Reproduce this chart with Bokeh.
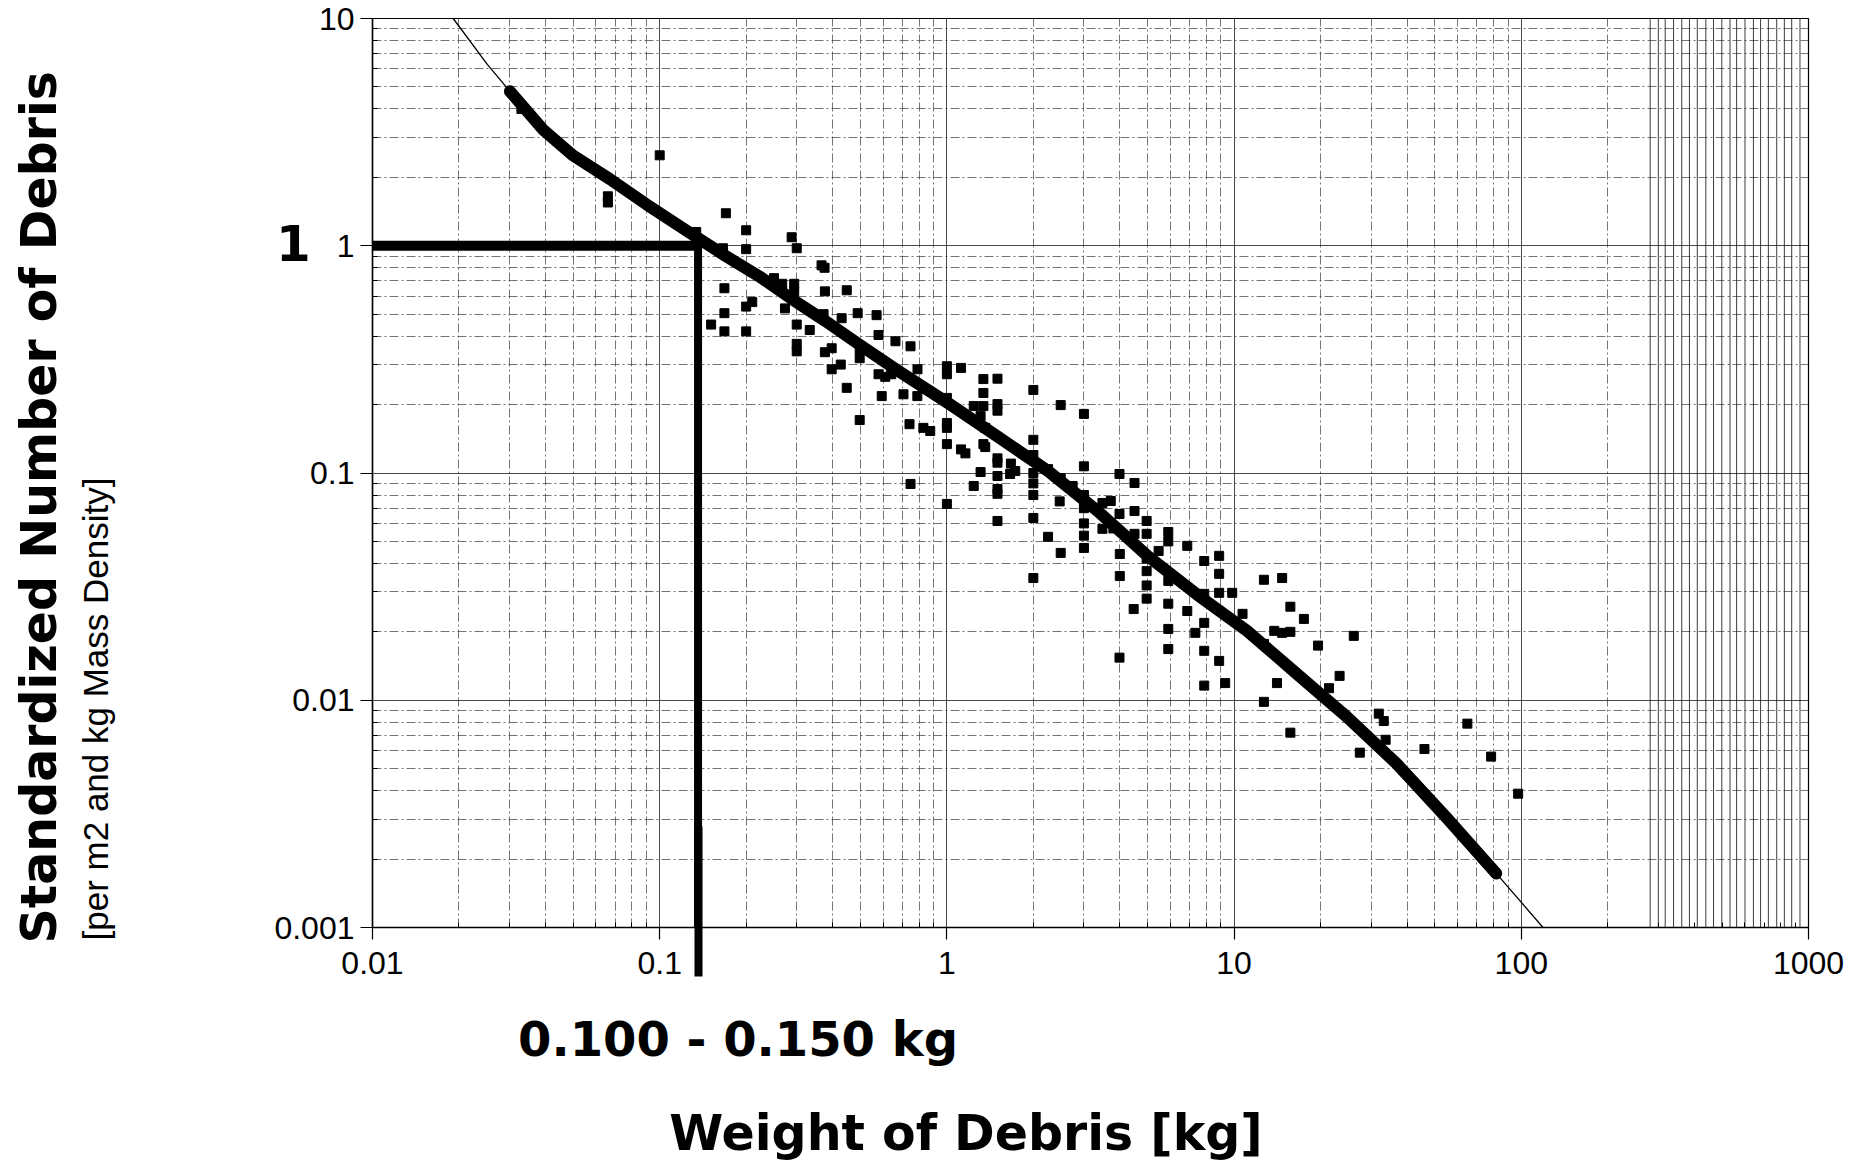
import math
from bokeh.plotting import figure
from bokeh.models import FixedTicker, Label, LogAxis
from bokeh.embed import file_html
from bokeh.resources import INLINE

# ---------------- data ----------------
x_ticks = [0.01, 0.1, 1, 10, 100, 1000]
x_tick_labels = ["0.01", "0.1", "1", "10", "100", "1000"]
y_ticks = [0.001, 0.01, 0.1, 1, 10]
y_tick_labels = ["0.001", "0.01", "0.1", "1", "10"]
minor_mantissas = [2, 3, 4, 5, 6, 7, 8, 9]

# measured debris (weight kg, standardized number)
debris_weight = [
    0.033, 0.066, 0.066, 0.1, 0.134, 0.166, 0.170, 0.2, 0.2, 0.288, 0.30,
    0.366, 0.375, 0.168, 0.2, 0.21, 0.25, 0.267, 0.294, 0.294, 0.376, 0.448,
    0.273, 0.168, 0.151, 0.168, 0.2, 0.30, 0.333, 0.30, 0.30, 0.376, 0.397,
    0.397, 0.427, 0.448, 0.372, 0.43, 0.489, 0.497, 0.497, 0.569, 0.578,
    0.662, 0.747, 0.578, 0.61, 0.64, 0.593, 0.497, 0.706, 0.789, 0.79,
    0.741, 0.828, 0.875, 1.0, 1.0, 1.12, 1.0, 1.0, 1.0, 1.0, 1.12, 1.16,
    0.747, 1.0, 1.34, 1.50, 1.34, 1.50, 1.50, 1.34, 1.24, 1.31, 1.36, 1.34,
    1.36, 1.5, 1.5, 1.67, 1.73, 1.66, 1.31, 1.24, 1.5, 1.5, 1.5, 1.5,
    2.0, 2.49, 3.0, 2.0, 2.0, 2.0, 2.0, 2.0, 2.0, 2.0, 2.25, 2.49,
    2.25, 2.49, 2.47, 2.74, 3.0, 3.0, 3.0, 3.0, 3.0, 3.0,
    3.48, 3.72, 3.99, 3.99, 4.5, 4.5, 3.48, 3.8, 4.0, 4.0, 4.5, 4.96, 4.96,
    3.99, 4.47, 4.96, 4.96, 4.96, 4.96, 5.46, 5.9, 5.9, 5.9, 5.9, 5.9, 5.9,
    6.87, 6.87, 7.33, 7.87, 7.87, 7.87, 7.87, 7.87, 8.87, 8.87, 8.87, 8.87,
    9.31, 9.85, 10.7, 12.7, 14.7, 12.7, 12.7, 13.8, 14.7, 15.7, 15.7,
    17.5, 14.1, 15.7, 19.6, 21.4, 23.3, 26.1, 31.9, 33.2, 33.7, 27.4, 46,
    64.9, 78.5, 97.5,
]
debris_number = [
    4.0, 1.65, 1.55, 2.5, 1.15, 0.975, 1.39, 1.17, 0.966, 1.09, 0.975,
    0.82, 0.80, 0.65, 0.54, 0.565, 0.72, 0.68, 0.68, 0.63, 0.63, 0.637,
    0.53, 0.505, 0.45, 0.42, 0.42, 0.45, 0.426, 0.37, 0.343, 0.34, 0.354,
    0.286, 0.30, 0.237, 0.50, 0.48, 0.505, 0.35, 0.32, 0.495, 0.405,
    0.38, 0.361, 0.272, 0.265, 0.272, 0.218, 0.171, 0.222, 0.218, 0.286,
    0.164, 0.158, 0.153, 0.295, 0.272, 0.29, 0.214, 0.166, 0.158, 0.134, 0.127, 0.122,
    0.0895, 0.0731, 0.259, 0.26, 0.225, 0.201, 0.188, 0.197, 0.197, 0.178, 0.158, 0.134,
    0.13, 0.116, 0.111, 0.110, 0.102, 0.099, 0.101, 0.0877, 0.097, 0.085, 0.081, 0.0615,
    0.232, 0.199, 0.182, 0.14, 0.12, 0.10, 0.09, 0.08, 0.0634, 0.0345, 0.0524, 0.0445,
    0.104, 0.095, 0.075, 0.0877, 0.107, 0.08, 0.07, 0.06, 0.053, 0.0468,
    0.0738, 0.0753, 0.099, 0.066, 0.0904, 0.068, 0.0568, 0.057, 0.044, 0.0352, 0.054, 0.0615, 0.054,
    0.0154, 0.0252, 0.042, 0.037, 0.032, 0.028, 0.0454, 0.055, 0.05, 0.0335, 0.0266, 0.0206, 0.0168,
    0.0478, 0.0247, 0.0198, 0.041, 0.0294, 0.0219, 0.0165, 0.0116, 0.0432, 0.036, 0.0297, 0.0149,
    0.0119, 0.0297, 0.024, 0.0339, 0.0345, 0.0177, 0.00984, 0.0202, 0.0198, 0.020, 0.0258,
    0.0228, 0.0119, 0.0072, 0.0174, 0.0113, 0.0128, 0.0192, 0.00873, 0.0081, 0.0067, 0.00588, 0.0061,
    0.00789, 0.00565, 0.00388,
]

# fitted curve read along its path
fit_weight = [0.0191, 0.0251, 0.0301, 0.0392, 0.0498, 0.0669, 0.090, 0.130,
              0.170, 0.222, 0.289, 0.378, 0.493, 0.678, 1.01, 1.51, 2.25,
              3.35, 5.0, 7.45, 11.1, 16.5, 24.7, 36.8, 54.8, 81.8, 119]
fit_number = [10, 6.28, 4.78, 3.25, 2.50, 1.97, 1.52, 1.12,
              0.90, 0.734, 0.582, 0.466, 0.369, 0.281, 0.203, 0.144, 0.102,
              0.068, 0.0431, 0.0291, 0.0202, 0.0131, 0.00845, 0.00526, 0.00305, 0.00173, 0.001]

# highlighted reading: 0.100 - 0.150 kg class -> 1
highlight_weight = 0.136
highlight_number = 1.0

# dense vertical rulings of the graph paper (300 - 1000 kg)
dense_grid_x = [281, 300, 317, 339, 362, 385, 410, 439, 467, 499, 533, 562,
                601, 643, 681, 725, 775, 824, 874, 934]

# ---------------- figure ----------------
FW, FH = 1436, 909
x_minor = [m * t for t in x_ticks[:-1] for m in minor_mantissas]
y_minor = [m * t for t in y_ticks[:-1] for m in minor_mantissas]
x_dec = math.log10(x_ticks[-1] / x_ticks[0])
y_dec = math.log10(y_ticks[-1] / y_ticks[0])


def x_px(px):
    """data x lying px screen pixels right of the frame's left edge"""
    return x_ticks[0] * 10 ** (px * x_dec / FW)


def y_px(py):
    """data y lying py screen pixels above the frame's bottom edge"""
    return y_ticks[0] * 10 ** (py * y_dec / FH)


p = figure(x_axis_type="log", y_axis_type="log",
           x_range=(x_ticks[0], x_ticks[-1]), y_range=(y_ticks[0], y_ticks[-1]),
           frame_width=FW, frame_height=FH,
           min_border_left=372, min_border_right=45, min_border_top=18, min_border_bottom=239,
           output_backend="svg", toolbar_location=None,
           background_fill_color="white", border_fill_color="white")

p.outline_line_color = "black"
p.outline_line_width = 1.2

p.xaxis.ticker = FixedTicker(ticks=x_ticks, minor_ticks=x_minor)
p.yaxis.ticker = FixedTicker(ticks=y_ticks, minor_ticks=y_minor)
p.xaxis.major_label_overrides = dict(zip(x_ticks, x_tick_labels))
p.yaxis.major_label_overrides = dict(zip(y_ticks, y_tick_labels))

p.xgrid.ticker = FixedTicker(ticks=x_ticks, minor_ticks=[v for v in x_minor if v < 250])
p.ygrid.ticker = FixedTicker(ticks=y_ticks, minor_ticks=y_minor)

for g in (p.xgrid, p.ygrid):
    g.grid_line_color = "#2a2a2a"
    g.grid_line_width = 1
    g.grid_line_alpha = 0.85
    g.minor_grid_line_color = "#3a3a3a"
    g.minor_grid_line_width = 1
    g.minor_grid_line_alpha = 0.7
    g.minor_grid_line_dash = "9 3 2 3"

for ax in (p.xaxis, p.yaxis):
    ax.axis_line_color = "black"
    ax.axis_line_width = 1.5
    ax.major_tick_out = 12
    ax.major_tick_in = 0
    ax.major_tick_line_color = "black"
    ax.major_tick_line_width = 1.2
    ax.minor_tick_in = 5
    ax.minor_tick_out = 0
    ax.minor_tick_line_color = "black"
    ax.major_label_text_font = "Liberation Sans"
    ax.major_label_text_font_size = "32px"
    ax.major_label_text_color = "black"
p.yaxis.major_label_standoff = 6
p.xaxis.major_label_standoff = 12

# the part of the vertical highlight line that runs below the x axis:
# a second (outer) bottom axis whose single tick reaches up to the frame
tail = LogAxis(ticker=FixedTicker(ticks=[highlight_weight], minor_ticks=[]),
               axis_line_color=None,
               major_tick_in=150, major_tick_out=0, major_tick_line_width=8,
               major_tick_line_color="black", minor_tick_line_color=None,
               major_label_overrides={highlight_weight: ""}, major_label_text_font_size="1px",
               major_label_standoff=0)
p.add_layout(tail, "below")

# texts: placed in the side panels so that they are not clipped to the frame
lab = dict(x_units="data", y_units="data", text_color="black", text_baseline="alphabetic")
p.add_layout(Label(x=x_px(-79), y=y_px(685), text="1",
                   text_font="DejaVu Sans", text_font_style="bold", text_font_size="50px",
                   text_align="center", **lab), "left")
p.add_layout(Label(x=x_px(-277), y=y_px(-13), text="[per m2 and kg Mass Density]",
                   angle=math.pi / 2, text_font="Liberation Sans", text_font_size="35px",
                   text_align="left", **lab), "left")
p.add_layout(Label(x=x_px(-333), y=y_px(-16), text="Standardized Number of Debris",
                   angle=math.pi / 2, text_font="DejaVu Sans", text_font_style="bold",
                   text_font_size="49px", text_align="left", **lab), "left")
p.add_layout(Label(x=x_px(365.5), y=y_px(-111), text="0.100 - 0.150 kg",
                   text_font="DejaVu Sans", text_font_style="bold", text_font_size="48px",
                   text_align="center", **lab), "below")
p.add_layout(Label(x=x_px(593.5), y=y_px(-206), text="Weight of Debris [kg]",
                   text_font="DejaVu Sans", text_font_style="bold", text_font_size="49px",
                   text_align="center", **lab), "below")

# dense rulings
p.segment(x0=dense_grid_x, y0=[y_ticks[0]] * len(dense_grid_x),
          x1=dense_grid_x, y1=[y_ticks[-1]] * len(dense_grid_x),
          line_color="#1a1a1a", line_width=1, line_alpha=0.85)

# fit curve: thin full extent, thick central part
p.line(fit_weight, fit_number, line_color="black", line_width=1.3)
p.line(fit_weight[2:-1], fit_number[2:-1], line_color="black", line_width=12,
       line_cap="round", line_join="round")

# data points
p.scatter(debris_weight, debris_number, marker="square", size=9,
          fill_color="black", line_color="black")

# highlight lines inside the frame
p.segment(x0=[x_ticks[0]], y0=[highlight_number], x1=[highlight_weight], y1=[highlight_number],
          line_color="black", line_width=10)
p.segment(x0=[highlight_weight], y0=[highlight_number], x1=[highlight_weight], y1=[y_ticks[0]],
          line_color="black", line_width=8)

open("out.html", "w").write(file_html(p, INLINE))
